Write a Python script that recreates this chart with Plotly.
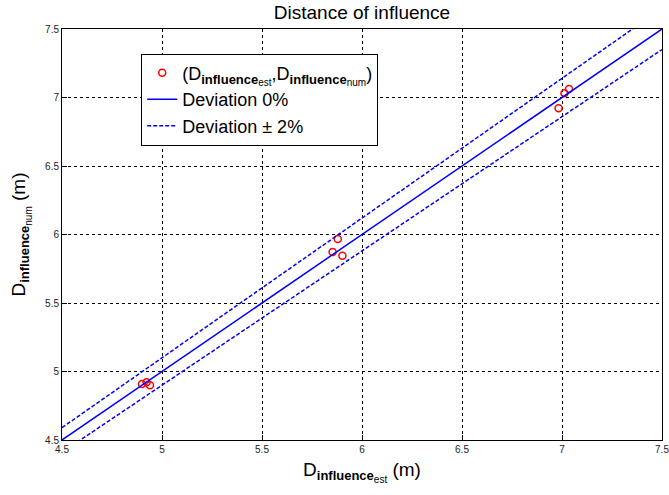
import plotly.graph_objects as go

est = [4.90, 4.923, 4.94, 5.853, 5.879, 5.902, 6.983, 7.012, 7.035]
num = [4.909, 4.921, 4.90, 5.872, 5.967, 5.845, 6.921, 7.031, 7.062]
line_x = [4.5, 7.5]
dev = 0.02
ticks = [4.5, 5, 5.5, 6, 6.5, 7, 7.5]
tick_text = ["4.5", "5", "5.5", "6", "6.5", "7", "7.5"]


def dlabel(sub):
    return ("D<sub><span style='font-size:13px'><b>influence</b></span>"
            "<sub><span style='font-size:10px'>" + sub + "</span></sub></sub>")


lab_est = dlabel("est")
lab_num = dlabel("num")

FONT = "Liberation Sans, Arial, Helvetica, sans-serif"

fig = go.Figure()
fig.add_trace(go.Scatter(
    x=est, y=num, mode="markers",
    marker=dict(symbol="circle-open", color="red", size=7, line=dict(width=1.5, color="red")),
    name="(" + lab_est + "," + lab_num + ")"))
fig.add_trace(go.Scatter(
    x=line_x, y=line_x, mode="lines",
    line=dict(color="#0000ff", width=1.5), name="Deviation 0%"))
fig.add_trace(go.Scatter(
    x=line_x, y=[v * (1 + dev) for v in line_x], mode="lines",
    line=dict(color="#0000ff", width=1.5, dash="4px,2px"), name="Deviation ± 2%"))
fig.add_trace(go.Scatter(
    x=line_x, y=[v * (1 - dev) for v in line_x], mode="lines",
    line=dict(color="#0000ff", width=1.5, dash="4px,2px"), showlegend=False))

axis_common = dict(
    range=[4.5, 7.5], tickvals=ticks, ticktext=tick_text,
    showgrid=True, gridcolor="black", gridwidth=1, griddash="dot",
    showline=True, linecolor="black", linewidth=1, mirror=True,
    ticks="inside", ticklen=5, tickcolor="black",
    tickfont=dict(family=FONT, size=10, color="#222"),
    ticklabeloverflow="allow",
    automargin=False,
    zeroline=False,
)

fig.update_layout(
    width=669, height=495,
    margin=dict(l=62, r=7, t=29, b=55),
    paper_bgcolor="white", plot_bgcolor="white",
    title=dict(text="Distance of influence", x=0.5, xref="paper", xanchor="center",
               y=0.976, yanchor="middle",
               font=dict(family=FONT, size=19, color="black")),
    xaxis=dict(axis_common, title=dict(text=lab_est + " (m)", standoff=8,
               font=dict(family=FONT, size=19, color="black"))),
    yaxis=dict(axis_common, title=dict(text=lab_num + " (m)", standoff=14,
               font=dict(family=FONT, size=19, color="black"))),
    legend=dict(x=0.132, y=0.94, xanchor="left", yanchor="top",
                bgcolor="white", bordercolor="black", borderwidth=1,
                font=dict(family=FONT, size=18, color="black"),
                tracegroupgap=0),
    showlegend=True,
)

fig.write_html("out.html")
